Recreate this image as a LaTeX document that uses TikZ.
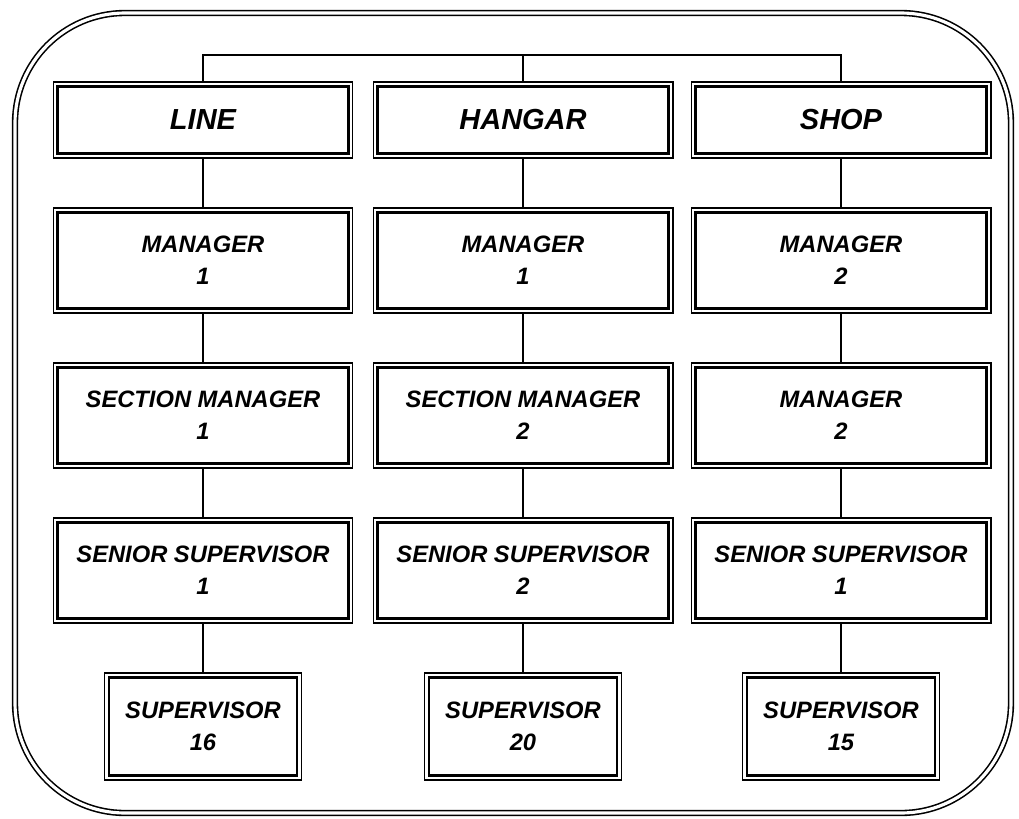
\documentclass[tikz,border=0pt]{standalone}
\usepackage{fontspec}
\setmainfont{Liberation Sans}
\begin{document}
\begin{tikzpicture}[x=0.02cm, y=-0.02cm,
    unit/.style={draw, line width=0.6pt, fill=white, minimum width=6cm, align=center,
        font=\fontsize{13.5}{18}\selectfont\bfseries\itshape,
        path picture={\draw[line width=1.4pt] ([shift={(2.6pt,-2.6pt)}]path picture bounding box.north west) rectangle ([shift={(-2.6pt,2.6pt)}]path picture bounding box.south east);}},
    head/.style={unit, minimum height=1.52cm, font=\fontsize{16.5}{20}\selectfont\bfseries\itshape},
    post/.style={unit, minimum height=2.1cm},
    sup/.style={unit, minimum width=3.94cm, minimum height=2.14cm},
    link/.style={line width=0.8pt}]
    \useasboundingbox (0,0) rectangle (1019,819);
    \draw[double, double distance=1.8pt, line width=0.9pt, rounded corners=2.2cm] (15,13) rectangle (1011,813);

    \node[head] (line) at (203,120) {LINE};
    \node[head] (hangar) at (523,120) {HANGAR};
    \node[head] (shop) at (841,120) {SHOP};

    \node[post] (lmgr) at (203,260.5) {MANAGER\\1};
    \node[post] (hmgr) at (523,260.5) {MANAGER\\1};
    \node[post] (smgr) at (841,260.5) {MANAGER\\2};

    \node[post] (lsec) at (203,415.5) {SECTION MANAGER\\1};
    \node[post] (hsec) at (523,415.5) {SECTION MANAGER\\2};
    \node[post] (ssec) at (841,415.5) {MANAGER\\2};

    \node[post] (lsen) at (203,570.5) {SENIOR SUPERVISOR\\1};
    \node[post] (hsen) at (523,570.5) {SENIOR SUPERVISOR\\2};
    \node[post] (ssen) at (841,570.5) {SENIOR SUPERVISOR\\1};

    \node[sup] (lsup) at (203,726.5) {SUPERVISOR\\16};
    \node[sup] (hsup) at (523,726.5) {SUPERVISOR\\20};
    \node[sup] (ssup) at (841,726.5) {SUPERVISOR\\15};

    \coordinate (bar) at (523,55);
    \draw[link] (line.north) |- (bar) -| (shop.north);
    \draw[link] (hangar.north) -- (hangar.north |- bar);
    \foreach \c in {l,h,s} {
        \draw[link] (\c mgr) -- (\c sec);
        \draw[link] (\c sec) -- (\c sen);
        \draw[link] (\c sen) -- (\c sup);
    }
    \draw[link] (line) -- (lmgr);
    \draw[link] (hangar) -- (hmgr);
    \draw[link] (shop) -- (smgr);
\end{tikzpicture}
\end{document}
